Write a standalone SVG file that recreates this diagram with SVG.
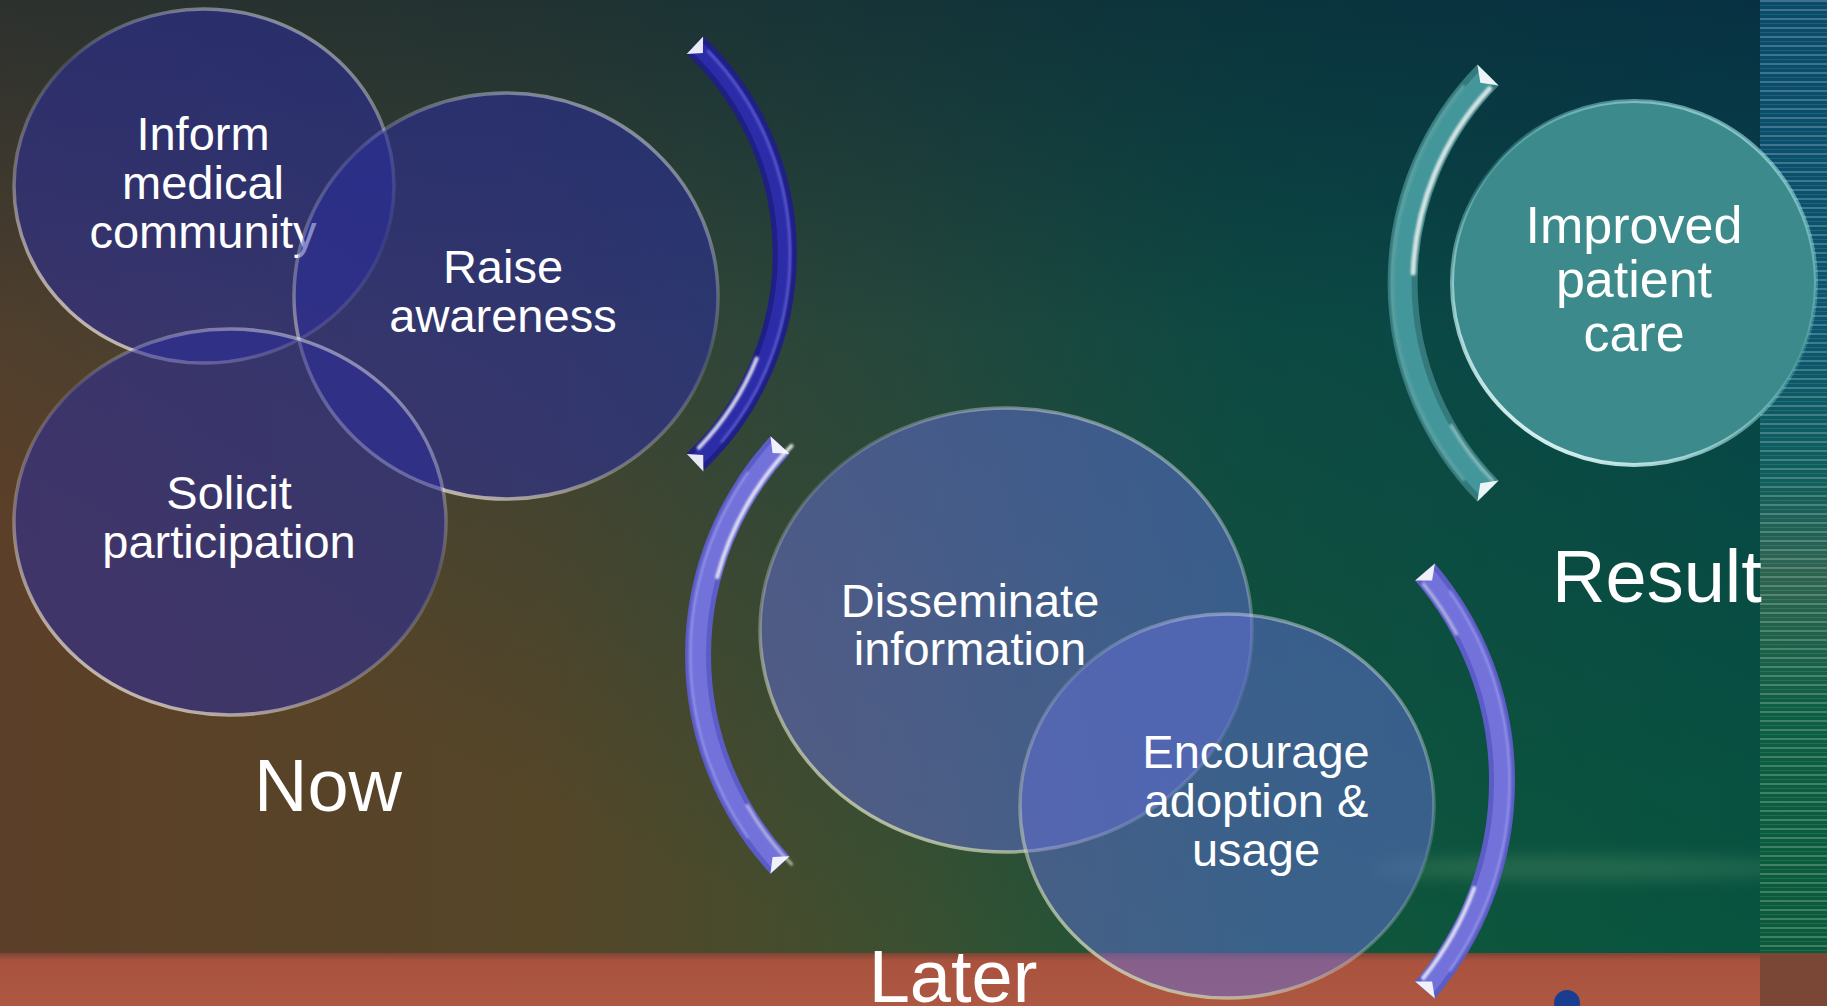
<svg xmlns="http://www.w3.org/2000/svg" width="1827" height="1006" viewBox="0 0 1827 1006">
<defs>
<style>
.t { font-family: "Liberation Sans", Arial, sans-serif; fill: #ffffff; text-anchor: middle; }
.n { font-size: 47px; }
.r { font-size: 52px; }
.lbl { font-size: 74px; }
.cl { fill: rgb(42,44,155); fill-opacity: 0.56; stroke: url(#rimL); stroke-width: 3.5; }
.cm { fill: rgb(100,110,215); fill-opacity: 0.5; stroke: url(#rimM); stroke-width: 3.5; }
.hl { fill: none; stroke-linecap: round; filter: url(#soft); }
.cap { stroke: none; }
</style>
<linearGradient id="bgH" x1="0" y1="0" x2="1" y2="0">
<stop offset="0" stop-color="#5c3f28"/>
<stop offset="0.3" stop-color="#554628"/>
<stop offset="0.5" stop-color="#3c5030"/>
<stop offset="0.68" stop-color="#145a38"/>
<stop offset="1" stop-color="#06603a"/>
</linearGradient>
<linearGradient id="bgT" x1="1" y1="0" x2="0.25" y2="0.8">
<stop offset="0" stop-color="#023e56" stop-opacity="1"/>
<stop offset="0.45" stop-color="#083c4a" stop-opacity="0.55"/>
<stop offset="1" stop-color="#083c4a" stop-opacity="0"/>
</linearGradient>
<linearGradient id="bgV" x1="0" y1="0" x2="0" y2="1">
<stop offset="0" stop-color="#101820" stop-opacity="0.35"/>
<stop offset="0.35" stop-color="#101820" stop-opacity="0"/>
</linearGradient>
<linearGradient id="band" x1="0" y1="0" x2="0" y2="1">
<stop offset="0" stop-color="#7e4434"/>
<stop offset="0.15" stop-color="#a9533f"/>
<stop offset="1" stop-color="#ad5842"/>
</linearGradient>
<linearGradient id="stripG" x1="0" y1="0" x2="0" y2="1">
<stop offset="0" stop-color="#0a4a6a"/>
<stop offset="0.35" stop-color="#0b566e"/>
<stop offset="0.5" stop-color="#0f5e5c"/>
<stop offset="0.6" stop-color="#2e6450"/>
<stop offset="0.75" stop-color="#0c5e42"/>
<stop offset="1" stop-color="#0a5a3a"/>
</linearGradient>
<pattern id="lines" x="0" y="0" width="20" height="9" patternUnits="userSpaceOnUse">
<rect x="0" y="0" width="20" height="2" fill="#ffffff" fill-opacity="0.22"/>
<rect x="0" y="5" width="20" height="1" fill="#ffffff" fill-opacity="0.1"/>
</pattern>
<linearGradient id="rimL" x1="0.8" y1="0" x2="0.2" y2="1">
<stop offset="0" stop-color="#ffffff" stop-opacity="0.5"/>
<stop offset="0.4" stop-color="#ffffff" stop-opacity="0.12"/>
<stop offset="0.7" stop-color="#e8e0d0" stop-opacity="0.35"/>
<stop offset="1" stop-color="#e0d8c8" stop-opacity="0.9"/>
</linearGradient>
<linearGradient id="rimM" x1="0.8" y1="0" x2="0.2" y2="1">
<stop offset="0" stop-color="#ffffff" stop-opacity="0.45"/>
<stop offset="0.4" stop-color="#ffffff" stop-opacity="0.12"/>
<stop offset="0.7" stop-color="#d8e0c0" stop-opacity="0.35"/>
<stop offset="1" stop-color="#d0d8b0" stop-opacity="0.9"/>
</linearGradient>
<linearGradient id="rimR" x1="0.8" y1="0" x2="0.2" y2="1">
<stop offset="0" stop-color="#c8ffff" stop-opacity="0.6"/>
<stop offset="0.45" stop-color="#99eeee" stop-opacity="0.15"/>
<stop offset="1" stop-color="#f0ffff" stop-opacity="1"/>
</linearGradient>
<filter id="blur" x="-20%" y="-200%" width="140%" height="500%">
<feGaussianBlur stdDeviation="8"/>
</filter>
<filter id="soft" x="-10%" y="-10%" width="120%" height="120%">
<feGaussianBlur stdDeviation="0.8"/>
</filter>
</defs>

<g id="background">
<rect x="0" y="0" width="1827" height="953" fill="url(#bgH)"/>
<rect x="0" y="0" width="1827" height="953" fill="url(#bgT)"/>
<rect x="0" y="0" width="1827" height="953" fill="url(#bgV)"/>
<ellipse cx="1590" cy="868" rx="220" ry="12" fill="#a8d8a0" opacity="0.16" filter="url(#blur)"/>
<rect x="0" y="953" width="1827" height="53" fill="url(#band)"/>
<rect x="1760" y="0" width="67" height="953" fill="url(#stripG)"/>
<rect x="1760" y="0" width="67" height="953" fill="url(#lines)"/>
<rect x="1760" y="953" width="67" height="53" fill="#7a4636"/>
<circle cx="1567" cy="1003" r="13" fill="#1b3d8f"/>
</g>

<g id="node-inform">
<ellipse class="cl" cx="204" cy="186" rx="190" ry="177"/>
<text class="t n" x="203" y="150">Inform</text>
<text class="t n" x="203" y="199">medical</text>
<text class="t n" x="203" y="248">community</text>
</g>
<g id="node-raise">
<ellipse class="cl" cx="506" cy="296" rx="212" ry="203"/>
<text class="t n" x="503" y="283">Raise</text>
<text class="t n" x="503" y="332">awareness</text>
</g>
<g id="node-solicit">
<ellipse class="cl" cx="230" cy="522" rx="216" ry="193"/>
<text class="t n" x="229" y="509">Solicit</text>
<text class="t n" x="229" y="558">participation</text>
</g>

<g id="node-disseminate">
<ellipse class="cm" cx="1006" cy="630" rx="246" ry="222"/>
<text class="t n" x="970" y="617">Disseminate</text>
<text class="t n" x="970" y="665">information</text>
</g>
<g id="node-encourage">
<ellipse class="cm" cx="1227" cy="806" rx="207" ry="192"/>
<text class="t n" x="1256" y="768">Encourage</text>
<text class="t n" x="1256" y="817">adoption &amp;</text>
<text class="t n" x="1256" y="866">usage</text>
</g>

<g id="connectors">
<g id="bracket-now">
<path d="M 695 45 A 287 287 0 0 1 695 462" fill="none" stroke="#1f1f86" stroke-width="24"/>
<path d="M 695 45 A 287 287 0 0 1 695 462" fill="none" stroke="#2c2ca8" stroke-width="14"/>
<path class="hl" d="M 708 51.1 A 292 292 0 0 1 721.7 441.7" stroke="#8080ee" stroke-width="2.5" stroke-opacity="0.55"/>
<path class="hl" d="M 756.7 358.5 A 279 279 0 0 1 698.7 447.8" stroke="#ffffff" stroke-width="4" stroke-opacity="0.8"/>
<polygon class="cap" points="703.1,36.6 686.7,54.1 702.9,52.9" fill="#ffffff" fill-opacity="0.9"/>
<polygon class="cap" points="703.4,471.4 686.9,453.9 703.2,455.0" fill="#ffffff" fill-opacity="0.9"/>
</g>
<g id="bracket-later-left">
<path d="M 780 445 A 310 310 0 0 0 780 865" fill="none" stroke="#5c5cc6" stroke-width="26"/>
<path d="M 780 445 A 310 310 0 0 0 780 865" fill="none" stroke="#7272da" stroke-width="16"/>
<path class="hl" d="M 747.5 472.6 A 318 318 0 0 0 747.5 837.4" stroke="#b4b4ff" stroke-width="2.5" stroke-opacity="0.55"/>
<path class="hl" d="M 791.5 445.9 A 301 301 0 0 0 717.3 577.1" stroke="#ffffff" stroke-width="4" stroke-opacity="0.8"/>
<path class="hl" d="M 747.3 805.5 A 301 301 0 0 0 791.5 864.1" stroke="#ffffff" stroke-width="3" stroke-opacity="0.55"/>
<polygon class="cap" points="770.4,436.2 789.6,453.8 772.6,453.1" fill="#ffffff" fill-opacity="0.9"/>
<polygon class="cap" points="770.4,873.8 789.6,856.2 772.6,856.9" fill="#ffffff" fill-opacity="0.9"/>
</g>
<g id="bracket-later-right">
<path d="M 1425 572 A 322 322 0 0 1 1425 990" fill="none" stroke="#5c5cc6" stroke-width="26"/>
<path d="M 1425 572 A 322 322 0 0 1 1425 990" fill="none" stroke="#7272da" stroke-width="16"/>
<path class="hl" d="M 1450.3 591.7 A 330 330 0 0 1 1450.3 970.3" stroke="#b4b4ff" stroke-width="2.5" stroke-opacity="0.55"/>
<path class="hl" d="M 1474.1 888.1 A 313 313 0 0 1 1423.2 978" stroke="#ffffff" stroke-width="4" stroke-opacity="0.8"/>
<path class="hl" d="M 1423.2 584 A 313 313 0 0 1 1456.4 634" stroke="#ffffff" stroke-width="3" stroke-opacity="0.55"/>
<polygon class="cap" points="1434.9,563.6 1415.1,580.4 1432.1,580.4" fill="#ffffff" fill-opacity="0.9"/>
<polygon class="cap" points="1434.9,998.4 1415.1,981.6 1432.1,981.6" fill="#ffffff" fill-opacity="0.9"/>
</g>
<g id="bracket-result">
<path d="M 1488 75 A 296 296 0 0 0 1488 491" fill="none" stroke="#347a7c" stroke-width="30"/>
<path d="M 1488 75 A 296 296 0 0 0 1488 491" fill="none" stroke="#43969a" stroke-width="18"/>
<path class="hl" d="M 1463.6 86.3 A 306 306 0 0 0 1463.6 479.7" stroke="#9fe6e6" stroke-width="2.5" stroke-opacity="0.5"/>
<path class="hl" d="M 1489.6 88.6 A 285 285 0 0 0 1413.2 273.1" stroke="#ffffff" stroke-width="5" stroke-opacity="0.8"/>
<path class="hl" d="M 1451.2 425.5 A 285 285 0 0 0 1493 481" stroke="#e0ffff" stroke-width="3" stroke-opacity="0.55"/>
<polygon class="cap" points="1477.4,64.5 1498.6,85.5 1480.3,82.8" fill="#ffffff" fill-opacity="0.9"/>
<polygon class="cap" points="1477.4,501.5 1498.6,480.5 1480.3,483.2" fill="#ffffff" fill-opacity="0.9"/>
</g>
</g>

<g id="node-improved">
<circle cx="1634" cy="283" r="182" fill="#3d8a8c" stroke="url(#rimR)" stroke-width="4"/>
<text class="t r" x="1634" y="243">Improved</text>
<text class="t r" x="1634" y="297">patient</text>
<text class="t r" x="1634" y="351">care</text>
</g>

<g id="labels">
<text class="t lbl" x="328" y="811">Now</text>
<text class="t lbl" x="953" y="1002">Later</text>
<text class="t lbl" x="1657" y="602">Result</text>
</g>
</svg>
